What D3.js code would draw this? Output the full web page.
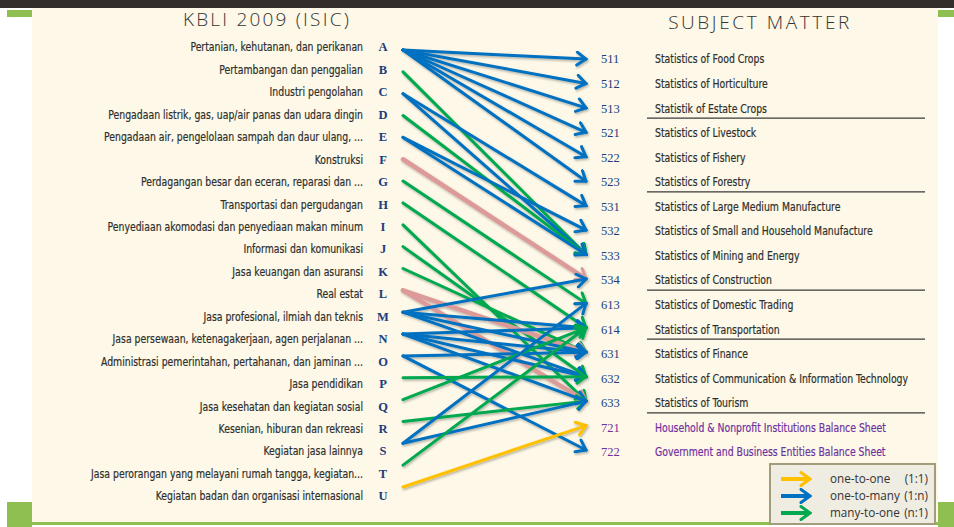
<html>
<head>
    <script src="https://d3js.org/d3.v7.min.js"></script>
    <style>
        body { margin: 0; background: #ffffff; }
        .lab { font-family: 'Liberation Sans Narrow', 'DejaVu Sans Condensed', sans-serif; font-stretch: condensed; }
        .ser { font-family: 'Liberation Serif', 'DejaVu Serif', serif; }
    </style>
</head>
<body>
<div id="dataviz"></div>

<script>
    // KBLI 2009 sections (left side)
    var leftCodes = ["A","B","C","D","E","F","G","H","I","J","K","L","M","N","O","P","Q","R","S","T","U"];
    var leftLabels = [
        "Pertanian, kehutanan, dan perikanan",
        "Pertambangan dan penggalian",
        "Industri pengolahan",
        "Pengadaan listrik, gas, uap/air panas dan udara dingin",
        "Pengadaan air, pengelolaan sampah dan daur ulang, ...",
        "Konstruksi",
        "Perdagangan besar dan eceran, reparasi dan ...",
        "Transportasi dan pergudangan",
        "Penyediaan akomodasi dan penyediaan makan minum",
        "Informasi dan komunikasi",
        "Jasa keuangan dan asuransi",
        "Real estat",
        "Jasa profesional, ilmiah dan teknis",
        "Jasa persewaan, ketenagakerjaan, agen perjalanan ...",
        "Administrasi pemerintahan, pertahanan, dan jaminan ...",
        "Jasa pendidikan",
        "Jasa kesehatan dan kegiatan sosial",
        "Kesenian, hiburan dan rekreasi",
        "Kegiatan jasa lainnya",
        "Jasa perorangan yang melayani rumah tangga, kegiatan...",
        "Kegiatan badan dan organisasi internasional"
    ];

    // subject matter (right side)
    var rightCodes = ["511","512","513","521","522","523","531","532","533","534","613","614","631","632","633","721","722"];
    var rightLabels = [
        "Statistics of Food Crops",
        "Statistics of Horticulture",
        "Statistik of Estate Crops",
        "Statistics of Livestock",
        "Statistics of Fishery",
        "Statistics of Forestry",
        "Statistics of Large Medium Manufacture",
        "Statistics of Small and Household Manufacture",
        "Statistics of Mining and Energy",
        "Statistics of Construction",
        "Statistics of Domestic Trading",
        "Statistics of Transportation",
        "Statistics of Finance",
        "Statistics of Communication & Information Technology",
        "Statistics of Tourism",
        "Household & Nonprofit Institutions Balance Sheet",
        "Government and Business Entities Balance Sheet"
    ];
    var purpleCodes = ["721","722"];
    var groupEnds = ["513","523","534","614","633"];

    // links: [source, target, type]
    var links = [
        ["A","511","1:n"], ["A","512","1:n"], ["A","513","1:n"], ["A","521","1:n"], ["A","522","1:n"], ["A","523","1:n"],
        ["B","533","n:1"],
        ["C","531","1:n"], ["C","533","1:n"],
        ["D","533","n:1"],
        ["E","532","1:n"], ["E","533","1:n"],
        ["F","534","other"],
        ["G","613","n:1"],
        ["H","614","n:1"],
        ["I","633","n:1"],
        ["J","632","n:1"],
        ["K","631","n:1"],
        ["L","631","other"], ["L","633","other"],
        ["M","534","1:n"], ["M","614","1:n"], ["M","631","1:n"], ["M","632","1:n"],
        ["N","614","1:n"], ["N","631","1:n"], ["N","632","1:n"], ["N","633","1:n"],
        ["O","631","1:n"], ["O","722","1:n"],
        ["P","632","n:1"],
        ["Q","614","n:1"],
        ["R","633","n:1"],
        ["S","613","1:n"], ["S","633","1:n"],
        ["T","614","n:1"],
        ["U","721","1:1"]
    ];

    var legendTypes = ["1:1","1:n","n:1"];
    var legendLabels = ["one-to-one","one-to-many","many-to-one"];
    var legendRatios = ["(1:1)","(1:n)","(n:1)"];

    var linkTypes = ["1:1","1:n","n:1","other"];
    var color = d3.scaleOrdinal().domain(linkTypes).range(["#ffc000","#0070c0","#00a84f","#dc9a98"]);

    var W = 954, H = 527;
    var narrow = 0.83;
    var svg = d3.select("#dataviz")
        .append("svg")
        .attr("width", W)
        .attr("height", H)
        .style("display", "block");

    var defs = svg.append("defs");
    var f = defs.append("filter").attr("id", "shadow").attr("x", "-10%").attr("y", "-10%").attr("width", "120%").attr("height", "120%");
    f.append("feDropShadow").attr("dx", 1).attr("dy", 1.5).attr("stdDeviation", 1).attr("flood-color", "#000").attr("flood-opacity", 0.3);

    linkTypes.forEach(function(t, i){
        defs.append("marker")
            .attr("id", "arr" + i)
            .attr("markerUnits", "userSpaceOnUse")
            .attr("viewBox", "-12 -8 14 16")
            .attr("refX", 0).attr("refY", 0)
            .attr("markerWidth", 14).attr("markerHeight", 16)
            .attr("orient", "auto")
            .append("path")
            .attr("d", "M-9,-6.5 L0,0 L-9,6.5")
            .attr("fill", "none")
            .attr("stroke", color(t))
            .attr("stroke-width", 3)
            .attr("stroke-linecap", "round")
            .attr("stroke-linejoin", "miter");
    });

    // background frame
    svg.append("rect").attr("x", 0).attr("y", 0).attr("width", W).attr("height", 8).attr("fill", "#332e2b");
    svg.append("rect").attr("x", 32).attr("y", 8).attr("width", 906).attr("height", 514).attr("fill", "#fdf8e7");
    svg.append("rect").attr("x", 7).attr("y", 10).attr("width", 25).attr("height", 7).attr("fill", "#8fbf50");
    svg.append("rect").attr("x", 938).attr("y", 10).attr("width", 16).attr("height", 7).attr("fill", "#8fbf50");
    svg.append("rect").attr("x", 7).attr("y", 502).attr("width", 25).attr("height", 25).attr("fill", "#8fbf50");
    svg.append("rect").attr("x", 938).attr("y", 502).attr("width", 16).attr("height", 25).attr("fill", "#8fbf50");
    svg.append("rect").attr("x", 32).attr("y", 522).attr("width", 906).attr("height", 3).attr("fill", "#8fbf50");

    // scales
    var yLeft = d3.scalePoint().domain(leftCodes).range([47, 496]);
    var yStart = d3.scalePoint().domain(leftCodes).range([50, 487]);
    var yRight = d3.scalePoint().domain(rightCodes).range([59, 452]);
    var yEnd = d3.scalePoint().domain(rightCodes).range([59, 450]);
    var xStart = 403, xEnd = 586;

    // titles
    svg.append("text").attr("x", 267).attr("y", 26)
        .attr("text-anchor", "middle")
        .style("font-family", "'Open Sans', sans-serif").style("font-weight", 300)
        .style("font-size", "19px").style("letter-spacing", "2.2px").attr("fill", "#333")
        .text("KBLI 2009 (ISIC)");
    svg.append("text").attr("x", 760).attr("y", 29)
        .attr("text-anchor", "middle")
        .style("font-family", "'Open Sans', sans-serif").style("font-weight", 300)
        .style("font-size", "19px").style("letter-spacing", "2.6px").attr("fill", "#333")
        .text("SUBJECT MATTER");

    // left labels + letters
    svg.selectAll(".llab").data(leftCodes).enter().append("text")
        .attr("class", "llab lab")
        .attr("transform", function(d){ return "translate(363," + yLeft(d) + ") scale(" + narrow + ",1)"; })
        .attr("dy", "0.35em").attr("text-anchor", "end")
        .style("font-size", "12.5px").attr("fill", "#2e2e2e")
        .attr("stroke", "#2e2e2e").attr("stroke-width", 0.2)
        .text(function(d, i){ return leftLabels[i]; });
    svg.selectAll(".lcode").data(leftCodes).enter().append("text")
        .attr("class", "lcode ser")
        .attr("x", 383).attr("y", function(d){ return yLeft(d); })
        .attr("dy", "0.35em").attr("text-anchor", "middle")
        .style("font-size", "12.5px").style("font-weight", "bold").attr("fill", "#203c7c")
        .text(function(d){ return d; });

    // right codes + labels
    svg.selectAll(".rcode").data(rightCodes).enter().append("text")
        .attr("class", "rcode ser")
        .attr("x", 601).attr("y", function(d){ return yRight(d); })
        .attr("dy", "0.35em")
        .style("font-size", "12.5px")
        .attr("fill", function(d){ return purpleCodes.indexOf(d) >= 0 ? "#7030a0" : "#203c7c"; })
        .text(function(d){ return d; });
    svg.selectAll(".rlab").data(rightCodes).enter().append("text")
        .attr("class", "rlab lab")
        .attr("transform", function(d){ return "translate(655," + yRight(d) + ") scale(" + narrow + ",1)"; })
        .attr("dy", "0.35em")
        .style("font-size", "12.5px")
        .attr("fill", function(d){ return purpleCodes.indexOf(d) >= 0 ? "#7030a0" : "#2e2e2e"; })
        .attr("stroke", function(d){ return purpleCodes.indexOf(d) >= 0 ? "#7030a0" : "#2e2e2e"; })
        .attr("stroke-width", 0.2)
        .text(function(d, i){ return rightLabels[i]; });

    // group dividers
    svg.selectAll(".div").data(groupEnds).enter().append("line")
        .attr("x1", 647).attr("x2", 925)
        .attr("y1", function(d){ return yRight(d) + 10; })
        .attr("y2", function(d){ return yRight(d) + 10; })
        .attr("stroke", "#3a3a3a").attr("stroke-width", 1.3);

    // links
    svg.append("g").attr("filter", "url(#shadow)")
        .selectAll("line").data(links).enter().append("line")
        .attr("x1", xStart)
        .attr("y1", function(d){ return yStart(d[0]); })
        .attr("x2", xEnd)
        .attr("y2", function(d){ return yEnd(d[1]); })
        .attr("stroke", function(d){ return color(d[2]); })
        .attr("stroke-width", function(d){ return d[2] == "other" ? 4.5 : 3; })
        .attr("stroke-linecap", "round")
        .attr("marker-end", function(d){ return "url(#arr" + linkTypes.indexOf(d[2]) + ")"; });

    // legend
    var lg = svg.append("g");
    lg.append("rect").attr("x", 770).attr("y", 464).attr("width", 165).attr("height", 60)
        .attr("fill", "#efece2").attr("stroke", "#a29c7a").attr("stroke-width", 2);
    var lgRow = d3.scalePoint().domain(legendTypes).range([479, 513]);
    lg.selectAll(".la").data(legendTypes).enter().append("line")
        .attr("x1", 781).attr("x2", 810)
        .attr("y1", function(d){ return lgRow(d); }).attr("y2", function(d){ return lgRow(d); })
        .attr("stroke", function(d){ return color(d); }).attr("stroke-width", 4)
        .attr("marker-end", function(d){ return "url(#arr" + linkTypes.indexOf(d) + ")"; });
    lg.selectAll(".lt").data(legendTypes).enter().append("text")
        .attr("x", 830).attr("y", function(d){ return lgRow(d); }).attr("dy", "0.35em")
        .style("font-family", "'Open Sans', sans-serif").style("font-size", "11.7px").attr("fill", "#333")
        .text(function(d, i){ return legendLabels[i]; });
    lg.selectAll(".lr").data(legendTypes).enter().append("text")
        .attr("x", 928).attr("y", function(d){ return lgRow(d); }).attr("dy", "0.35em")
        .attr("text-anchor", "end")
        .style("font-family", "'Open Sans', sans-serif").style("font-size", "11.7px").attr("fill", "#333")
        .text(function(d, i){ return legendRatios[i]; });
</script>

</body>
</html>
